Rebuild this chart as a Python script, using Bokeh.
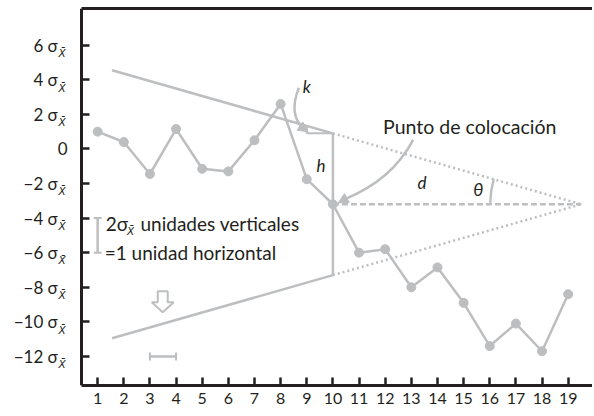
from bokeh.plotting import figure
from bokeh.models import (LinearAxis, FixedTicker, Label, ColumnDataSource,
                          Whisker, TeeHead, Arrow, NormalHead)
from bokeh.embed import file_html
from bokeh.resources import INLINE
import math

# ---------------- data ----------------
samples = list(range(1, 20))
cusum = [1.0, 0.4, -1.45, 1.15, -1.15, -1.3, 0.5, 2.6, -1.75, -3.2,
         -6.0, -5.8, -8.0, -6.85, -8.9, -11.4, -10.1, -11.7, -8.4]
y_ticks = [-12, -10, -8, -6, -4, -2, 0, 2, 4, 6]
y_tick_labels = ["\u221212 \u03c3", "\u221210 \u03c3", "\u22128 \u03c3", "\u22126 \u03c3",
                 "\u22124 \u03c3", "\u22122 \u03c3", "0", "2 \u03c3", "4 \u03c3", "6 \u03c3"]
x_tick_labels = [str(s) for s in samples]
sub_text = "X\u0304"

# V-mask parameters
placement = 10          # punto de colocacion (sample index)
lead_d = 9.5            # d
half_h = 4.1            # h
arm_start = 1.55

GRAY = "#bcbec0"
INK = "#231f20"
FONT = "Lato"
SUBFONT = "DejaVu Sans"

# visible plotting box (axes drawn at its edges)
box_x = (0.387, 19.93)
box_y = (-13.68, 8.12)
x_range = (-2.716, 19.93)
y_range = box_y
W, H = 592, 412
ML, MT, MB, MR = 0, 8, 27, 0

p = figure(width=W, height=H, x_range=x_range, y_range=y_range,
           output_backend="svg", toolbar_location=None,
           min_border_left=ML, min_border_top=MT, min_border_bottom=MB,
           min_border_right=MR)
p.grid.visible = False
p.outline_line_color = None
p.background_fill_color = "white"
p.border_fill_color = "white"

# axes
for ax in (p.xaxis[0], p.yaxis[0]):
    ax.axis_line_width = 3
    ax.axis_line_color = INK
    ax.major_tick_line_width = 2.5
    ax.major_tick_line_color = INK
    ax.major_tick_in = 8
    ax.major_tick_out = 0
    ax.minor_tick_line_color = None
    ax.major_label_text_font = FONT
    ax.major_label_text_color = INK

p.xaxis[0].ticker = FixedTicker(ticks=samples)
p.xaxis[0].bounds = box_x
p.xaxis[0].major_label_overrides = {s: l for s, l in zip(samples, x_tick_labels)}
p.xaxis[0].major_label_standoff = 7
p.xaxis[0].major_label_text_font_size = "16px"

p.yaxis[0].ticker = FixedTicker(ticks=y_ticks)
p.yaxis[0].fixed_location = box_x[0]
p.yaxis[0].bounds = box_y
p.yaxis[0].major_label_overrides = {t: (l + "\u2007" if t != 0 else l)
                                    for t, l in zip(y_ticks, y_tick_labels)}
p.yaxis[0].major_label_standoff = 14
p.yaxis[0].major_label_text_font_size = "17px"

top_axis = LinearAxis(ticker=FixedTicker(ticks=[]), axis_line_width=3, axis_line_color=INK,
                      major_tick_in=0, major_tick_out=0, minor_tick_line_color=None,
                      major_label_text_font_size="0px", major_label_standoff=0,
                      bounds=box_x)
p.add_layout(top_axis, "above")

# subscripts on y tick labels
for t in y_ticks:
    if t != 0:
        p.add_layout(Label(x=-0.50, y=t - 0.45, text=sub_text, text_font=SUBFONT,
                           text_font_style="italic", text_font_size="10.5px",
                           text_color=INK, text_align="left", text_baseline="middle"))

# ---------------- V-mask ----------------
y0 = cusum[placement - 1]
apex_x = placement + lead_d
slope = half_h / lead_d
up_at = y0 + half_h
lo_at = y0 - half_h
up_start = up_at + slope * (placement - arm_start)
lo_start = lo_at - slope * (placement - arm_start)

p.line([arm_start, placement], [up_start, up_at], line_color=GRAY, line_width=2.5)
p.line([arm_start, placement], [lo_start, lo_at], line_color=GRAY, line_width=2.5)
p.line([placement, placement], [up_at, lo_at], line_color=GRAY, line_width=2.5)
p.line([placement, apex_x], [up_at, y0], line_color=GRAY, line_width=2.5, line_dash="2 3")
p.line([placement, apex_x], [lo_at, y0], line_color=GRAY, line_width=2.5, line_dash="2 3")
p.line([placement, apex_x], [y0, y0], line_color=GRAY, line_width=2.5, line_dash="6 3")
# k triangle
p.line([placement - 1, placement - 1, placement], [up_at + slope, up_at, up_at],
       line_color=GRAY, line_width=2)

# theta arc
px_x = (W - ML - MR) / (x_range[1] - x_range[0])
px_y = (H - MT - MB) / (y_range[1] - y_range[0])
ang = math.degrees(math.atan2(slope * px_y, px_x))
p.arc(x=[apex_x], y=[y0], radius=91, radius_units="screen",
      start_angle=180 - ang, end_angle=179, start_angle_units="deg", end_angle_units="deg",
      direction="anticlock", line_color=GRAY, line_width=2.5)

# ---------------- data series ----------------
p.line(samples, cusum, line_color=GRAY, line_width=2.5)
p.scatter(samples, cusum, size=9, fill_color=GRAY, line_color=GRAY)

# ---------------- curved arrows ----------------
p.quadratic(x0=[8.70], y0=[3.54], x1=[8.89], y1=[1.16], cx=[8.28], cy=[1.97],
            line_color=GRAY, line_width=2.5)
p.add_layout(Arrow(x_start=8.89, y_start=1.16, x_end=9.05, y_end=0.99,
                   line_color=GRAY, line_width=2.5,
                   end=NormalHead(size=10, fill_color=GRAY, line_color=GRAY)))
p.quadratic(x0=[13.07], y0=[0.52], x1=[10.46], y1=[-2.90], cx=[12.26], cy=[-1.80],
            line_color=GRAY, line_width=2.5)
p.add_layout(Arrow(x_start=10.46, y_start=-2.90, x_end=10.20, y_end=-3.12,
                   line_color=GRAY, line_width=2.5,
                   end=NormalHead(size=10, fill_color=GRAY, line_color=GRAY)))

# ---------------- scale whiskers ----------------
wv = ColumnDataSource(dict(base=[1], lower=[-6], upper=[-4]))
p.add_layout(Whisker(source=wv, base="base", lower="lower", upper="upper",
                     dimension="height", line_color=GRAY, line_width=2.5,
                     upper_head=TeeHead(size=8, line_color=GRAY, line_width=2),
                     lower_head=TeeHead(size=8, line_color=GRAY, line_width=2)))
wh = ColumnDataSource(dict(base=[-12], lower=[3], upper=[4]))
p.add_layout(Whisker(source=wh, base="base", lower="lower", upper="upper",
                     dimension="width", line_color=GRAY, line_width=2.5,
                     upper_head=TeeHead(size=8, line_color=GRAY, line_width=2),
                     lower_head=TeeHead(size=8, line_color=GRAY, line_width=2)))

# hollow down arrow
cx, top, head, tip, sw, hw = 3.49, -8.23, -8.87, -9.45, 0.19, 0.42
p.patch([cx - sw, cx + sw, cx + sw, cx + hw, cx, cx - hw, cx - sw],
        [top, top, head, head, tip, head, head],
        fill_color="white", line_color=GRAY, line_width=2)

# ---------------- texts ----------------
def lab(x, y, t, size="17px", style="normal", align="left", font=FONT):
    p.add_layout(Label(x=x, y=y, text=t, text_font=font, text_font_size=size,
                       text_font_style=style, text_color=INK, text_align=align,
                       text_baseline="middle"))

lab(9.0, 3.6, "k", style="italic", align="center")
lab(9.54, -0.93, "h", style="italic", align="center")
lab(13.41, -1.97, "d", style="italic", align="center")
lab(15.56, -2.32, "\u03b8", style="italic", align="center", size="18px")
lab(11.92, 1.28, "Punto de colocaci\u00f3n", size="19.5px")
lab(1.31, -4.29, "2\u03c3", size="19px")
lab(2.12, -4.72, sub_text, size="10.5px", style="italic", font=SUBFONT)
lab(2.64, -4.29, "unidades verticales", size="19px")
lab(1.27, -5.97, "=1 unidad horizontal", size="19px")

open("out.html", "w").write(file_html(p, INLINE))
